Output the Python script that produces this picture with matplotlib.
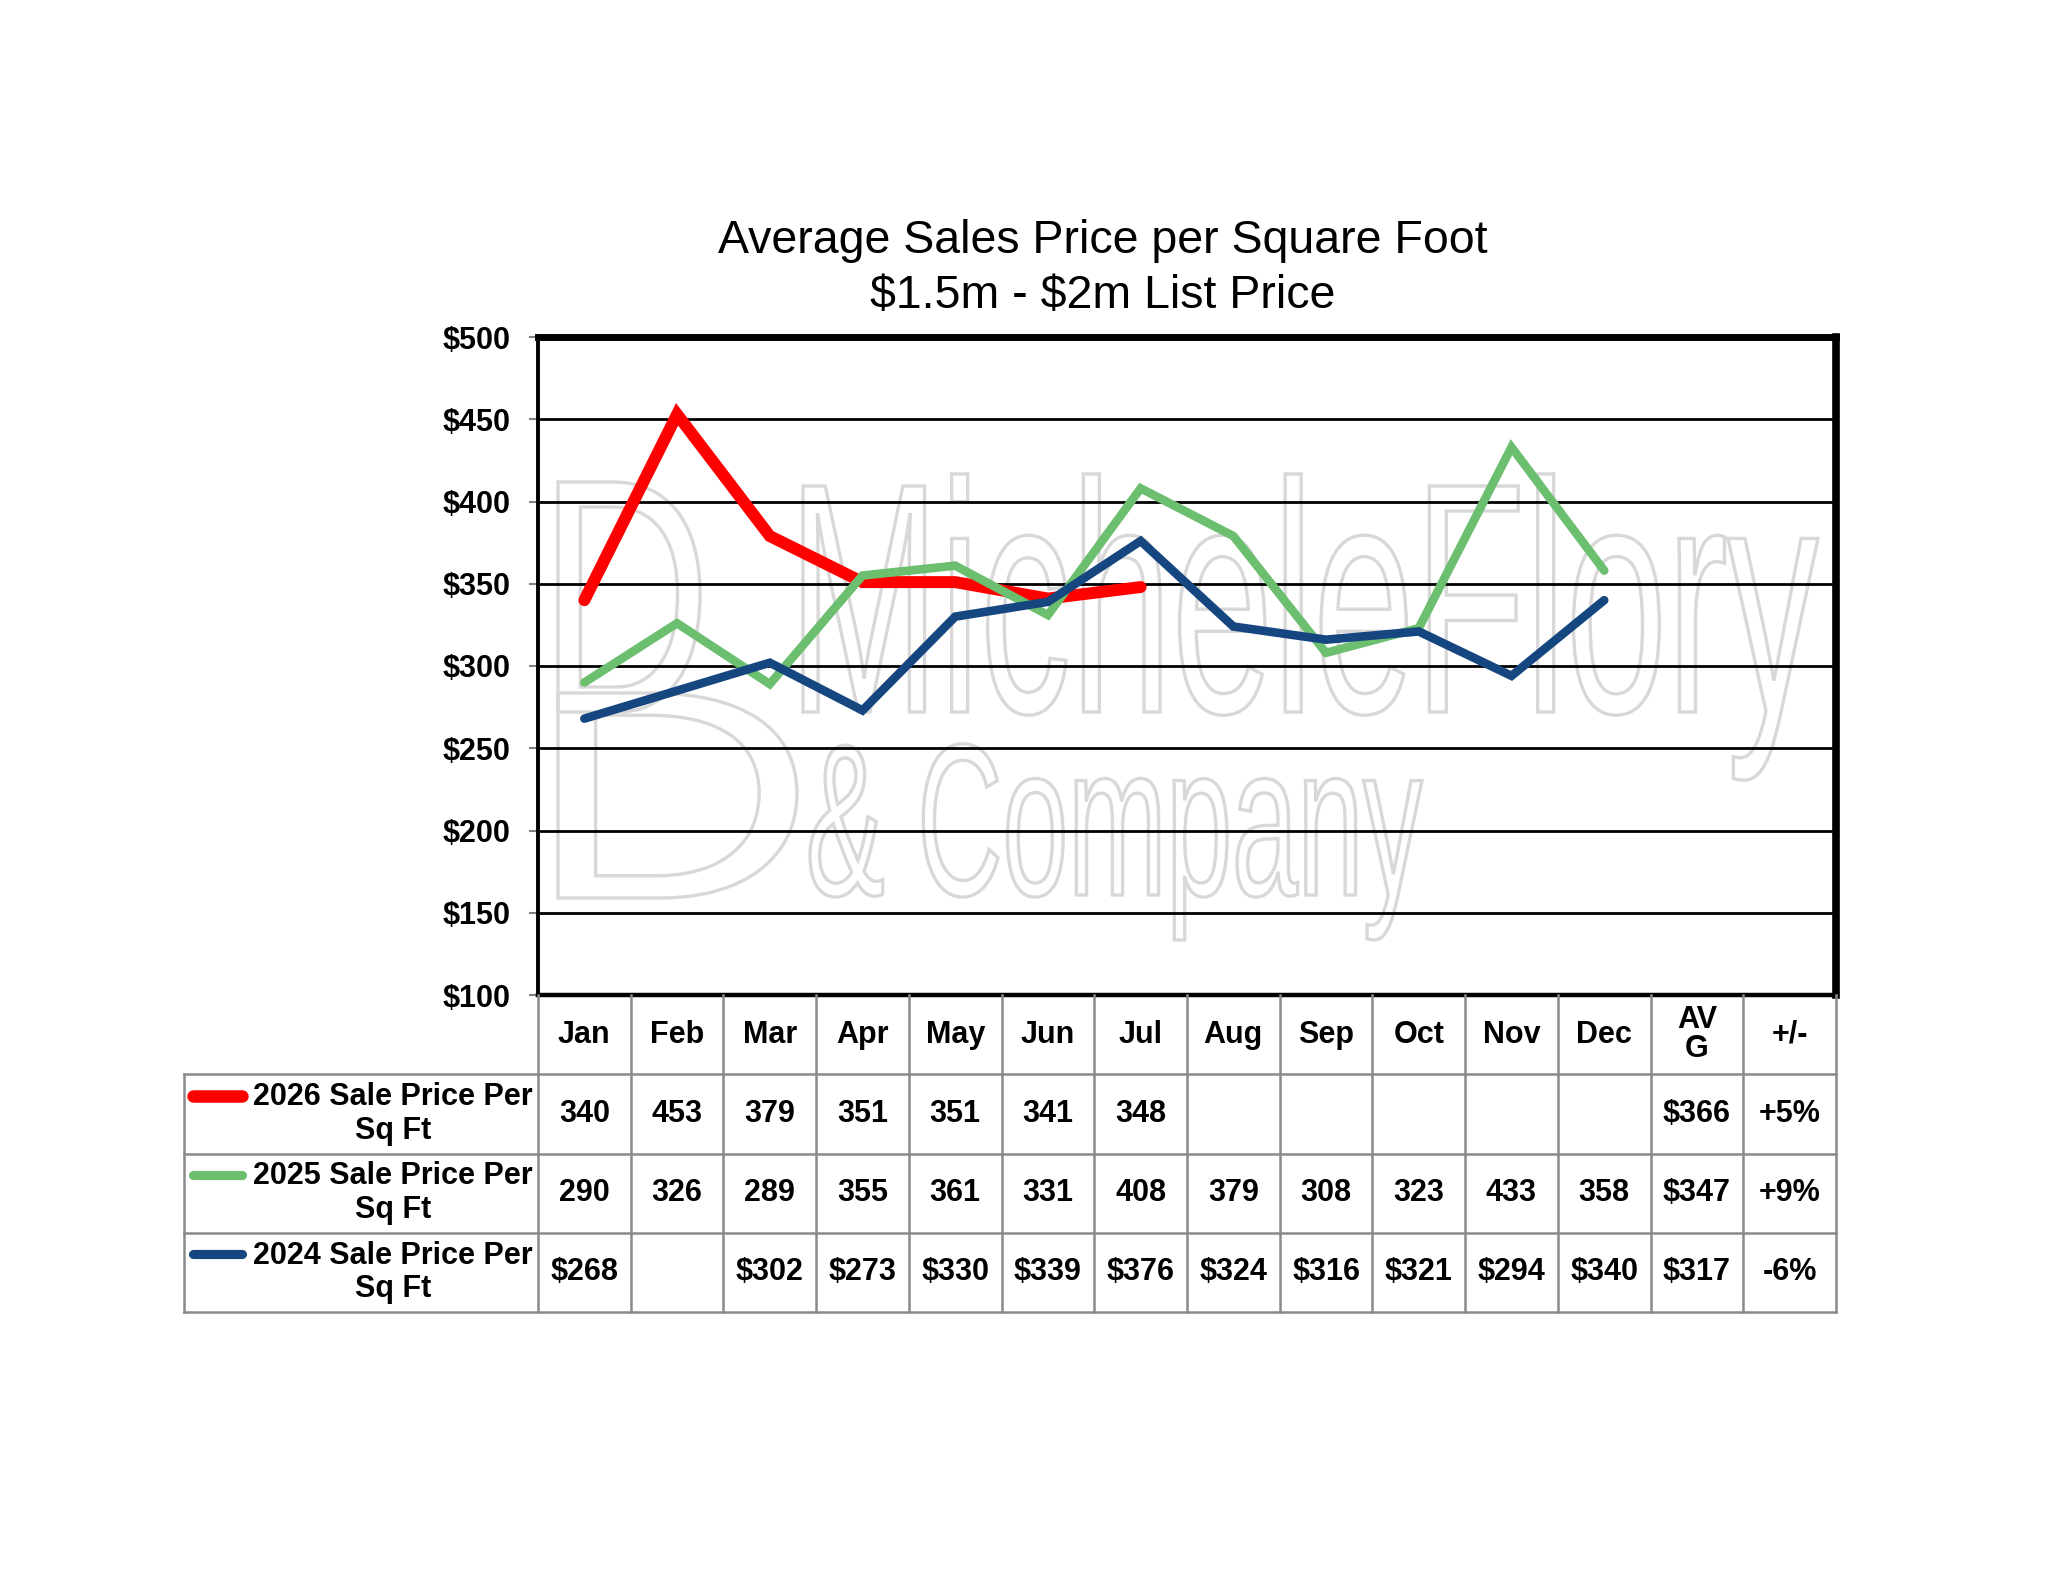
import matplotlib
matplotlib.use("Agg")
import matplotlib.pyplot as plt
import numpy as np
from matplotlib.font_manager import FontProperties
from matplotlib.patches import PathPatch
from matplotlib.textpath import TextPath
from matplotlib.transforms import Affine2D, IdentityTransform

plt.rcParams["font.family"] = ["Liberation Sans", "DejaVu Sans"]
plt.rcParams["text.parse_math"] = False

# ===== data =====
months = ["Jan", "Feb", "Mar", "Apr", "May", "Jun", "Jul", "Aug", "Sep", "Oct", "Nov", "Dec"]
extra_headers = ["AV\nG", "+/-"]
series_names = ["2026 Sale Price Per\nSq Ft", "2025 Sale Price Per\nSq Ft", "2024 Sale Price Per\nSq Ft"]
sale_2026 = [340, 453, 379, 351, 351, 341, 348, np.nan, np.nan, np.nan, np.nan, np.nan]
sale_2025 = [290, 326, 289, 355, 361, 331, 408, 379, 308, 323, 433, 358]
sale_2024 = [268, np.nan, 302, 273, 330, 339, 376, 324, 316, 321, 294, 340]
avg_labels = ["$366", "$347", "$317"]
change_labels = ["+5%", "+9%", "-6%"]
dollar_fmt = [False, False, True]
colors = ["#ff0000", "#6cbf6e", "#16467f"]
widths = [8.6, 6.2, 6.2]

W, H = 2048, 1583
fig = plt.figure(figsize=(W / 100, H / 100), dpi=100)

# layout in image pixels
px_left, px_right = 538, 1836
px_top, px_bottom = 337, 995
tab_left, tab_bottom = 184, 1312
ncols = len(months) + len(extra_headers)

# ===== chart =====
ax = fig.add_axes([px_left / W, 1 - px_bottom / H, (px_right - px_left) / W, (px_bottom - px_top) / H])
ax.set_xlim(-0.5, ncols - 0.5)
ax.set_ylim(100, 500)
ax.set_yticks(np.arange(100, 501, 50))
ax.yaxis.set_major_formatter(matplotlib.ticker.StrMethodFormatter("${x:.0f}"))
ax.set_xticks([])
ax.tick_params(axis="y", direction="out", length=6.5, width=1.5, color="#808080",
               pad=13, labelsize=22)
for lab in ax.get_yticklabels():
    lab.set_fontweight("bold")
ax.yaxis.grid(color="black", linestyle="-", linewidth=2.0)
ax.set_axisbelow(True)
for side, lw in [("top", 5.0), ("right", 5.5), ("left", 2.8), ("bottom", 3.2)]:
    ax.spines[side].set_color("black")
    ax.spines[side].set_linewidth(lw)


def watermark(text, x0, x1, cap_top, baseline):
    prop = FontProperties(family="Liberation Sans")
    tp = TextPath((0, 0), text, size=1, prop=prop)
    ext = tp.get_extents()
    cap = TextPath((0, 0), "H", size=1, prop=prop).get_extents().height
    sx = (x1 - x0) / ext.width
    sy = (baseline - cap_top) / cap
    tr = Affine2D().translate(-ext.x0, 0).scale(sx, sy).translate(x0, H - baseline)
    ax.add_patch(PathPatch(tr.transform_path(tp), transform=IdentityTransform(),
                           facecolor="none", edgecolor="#d8d8d8", linewidth=2.4, zorder=0.2))


# faint company logo behind the plot
watermark("MicheleFlory", 803, 1818, 486, 712)
watermark("& Company", 810, 1422, 746, 895)
watermark("D", 558, 700, 482, 712)
watermark("D", 558, 797, 693, 898)

x = np.arange(len(months))
for vals, c, lw in zip([sale_2026, sale_2025, sale_2024], colors, widths):
    v = np.array(vals, dtype=float)
    ok = ~np.isnan(v)
    ax.plot(x[ok], v[ok], color=c, lw=lw, solid_capstyle="round", solid_joinstyle="miter", zorder=3)

fig.text(1103 / W, 1 - 253 / H, "Average Sales Price per Square Foot", ha="center", va="baseline", fontsize=33.5)
fig.text(1103 / W, 1 - 308 / H, "$1.5m - $2m List Price", ha="center", va="baseline", fontsize=33.5)

# ===== data table =====
tax = fig.add_axes([tab_left / W, 1 - tab_bottom / H, (px_right - tab_left) / W, (tab_bottom - px_bottom) / H])
tax.set_xlim(tab_left, px_right)
tax.set_ylim(tab_bottom, px_bottom)
tax.axis("off")

col_w = (px_right - px_left) / ncols
row_h = (tab_bottom - px_bottom) / 4
grid_kw = dict(color="#8a8a8a", lw=1.8, solid_capstyle="projecting", clip_on=False)
fs = 22

# vertical lines
for i in range(ncols + 1):
    xx = px_left + i * col_w
    tax.plot([xx, xx], [px_bottom, tab_bottom], **grid_kw)
tax.plot([tab_left, tab_left], [px_bottom + row_h, tab_bottom], **grid_kw)
# horizontal lines
for r in range(1, 5):
    yy = px_bottom + r * row_h
    tax.plot([tab_left, px_right], [yy, yy], **grid_kw)

headers = months + extra_headers
for i, h in enumerate(headers):
    tax.text(px_left + (i + 0.5) * col_w, px_bottom + 0.5 * row_h, h, ha="center", va="center",
             fontsize=fs, fontweight="bold", linespacing=0.95)

rows = [sale_2026, sale_2025, sale_2024]
for r, (vals, name) in enumerate(zip(rows, series_names)):
    yc = px_bottom + (r + 1.5) * row_h
    tax.plot([193, 242], [yc - 18, yc - 18], color=colors[r], lw=widths[r] + 0.4,
             solid_capstyle="round", clip_on=False)
    tax.text(393, yc, name, ha="center", va="center", fontsize=fs, fontweight="bold",
             multialignment="center", linespacing=1.15)
    cells = []
    for v in vals:
        if np.isnan(v):
            cells.append("")
        elif dollar_fmt[r]:
            cells.append(f"${v:.0f}")
        else:
            cells.append(f"{v:.0f}")
    cells += [avg_labels[r], change_labels[r]]
    for i, s in enumerate(cells):
        tax.text(px_left + (i + 0.5) * col_w, yc, s, ha="center", va="center",
                 fontsize=fs, fontweight="bold")

fig.savefig("out.png", dpi=100, facecolor="white")
